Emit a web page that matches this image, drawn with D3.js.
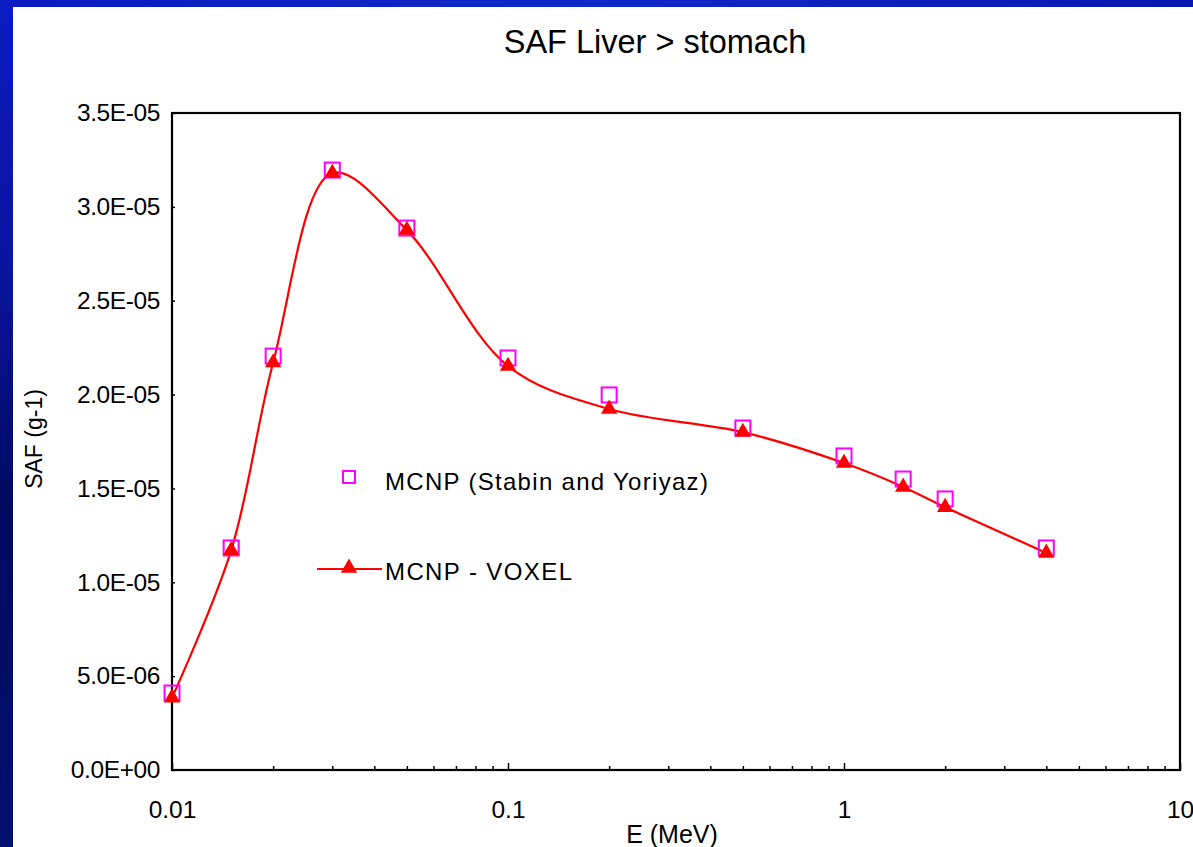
<!DOCTYPE html>
<html>
<head>
<meta charset="utf-8">
<script src="https://cdn.jsdelivr.net/npm/d3@7"></script>
<style>
  html, body { margin: 0; padding: 0; background: #fff; }
  svg { display: block; }
  text { font-family: Arial, "Liberation Sans", sans-serif; fill: #000; }
</style>
</head>
<body>
<svg id="chart" width="1193" height="847"></svg>
<script>
// ---- data ----
const energies = [0.01, 0.015, 0.02, 0.03, 0.05, 0.1, 0.2, 0.5, 1, 1.5, 2, 4];
const stabinYoriyaz = [4.10e-6, 1.183e-5, 2.205e-5, 3.196e-5, 2.887e-5, 2.195e-5, 1.998e-5, 1.822e-5, 1.673e-5, 1.550e-5, 1.444e-5, 1.183e-5];
const voxel = [3.85e-6, 1.17e-5, 2.17e-5, 3.18e-5, 2.876e-5, 2.152e-5, 1.923e-5, 1.80e-5, 1.635e-5, 1.508e-5, 1.40e-5, 1.156e-5];
const xMajorTicks = [0.01, 0.1, 1, 10];
const xTickLabels = ["0.01", "0.1", "1", "10"];
const yTicks = [0, 5e-6, 1e-5, 1.5e-5, 2e-5, 2.5e-5, 3e-5, 3.5e-5];
const seriesNames = ["MCNP (Stabin and Yoriyaz)", "MCNP - VOXEL"];
const chartTitle = "SAF Liver > stomach";
const xTitle = "E (MeV)";
const yTitle = "SAF (g-1)";

// ---- layout ----
const svg = d3.select("#chart");
const W = 1193, H = 847;
const plot = { left: 172, right: 1180, top: 113, bottom: 770 };

// background frame (blue gradient border)
const defs = svg.append("defs");
const g1 = defs.append("linearGradient").attr("id", "bg").attr("x1", 0).attr("y1", 0).attr("x2", 0).attr("y2", 1);
g1.append("stop").attr("offset", "0%").attr("stop-color", "#0a1cc0");
g1.append("stop").attr("offset", "30%").attr("stop-color", "#0a14a0");
g1.append("stop").attr("offset", "60%").attr("stop-color", "#000a60");
g1.append("stop").attr("offset", "100%").attr("stop-color", "#00106e");
const g2 = defs.append("linearGradient").attr("id", "bgTop").attr("x1", 0).attr("y1", 0).attr("x2", 1).attr("y2", 0);
g2.append("stop").attr("offset", "0%").attr("stop-color", "#0a1cc0");
g2.append("stop").attr("offset", "50%").attr("stop-color", "#1028c8");
g2.append("stop").attr("offset", "100%").attr("stop-color", "#0818b0");
svg.append("rect").attr("x", 0).attr("y", 0).attr("width", W).attr("height", H).attr("fill", "url(#bg)");
svg.append("rect").attr("x", 0).attr("y", 0).attr("width", W).attr("height", 8).attr("fill", "url(#bgTop)");
svg.append("rect").attr("x", 13).attr("y", 7).attr("width", W - 13).attr("height", H - 7).attr("fill", "#ffffff");

// ---- scales ----
const x = d3.scaleLog().domain([0.01, 10]).range([plot.left, plot.right]);
const y = d3.scaleLinear().domain([0, 3.5e-5]).range([plot.bottom, plot.top]);

function sci(d) {
  if (d === 0) return "0.0E+00";
  const e = Math.floor(Math.log10(d) + 1e-9);
  const m = d / Math.pow(10, e);
  const ee = Math.abs(e);
  return m.toFixed(1) + "E" + (e < 0 ? "-" : "+") + (ee < 10 ? "0" + ee : ee);
}

// ---- axes ----
// minor x ticks (inward)
const minorTicks = x.ticks().filter(t => xMajorTicks.indexOf(t) < 0);
svg.append("g")
  .attr("transform", `translate(0,${plot.bottom})`)
  .call(d3.axisBottom(x).tickValues(minorTicks).tickSize(-4).tickFormat(""))
  .call(g => g.select(".domain").remove())
  .call(g => g.selectAll("line").attr("stroke", "#000").attr("stroke-width", 1.5));

// major x ticks
svg.append("g")
  .attr("transform", `translate(0,${plot.bottom})`)
  .call(d3.axisBottom(x).tickValues(xMajorTicks).tickSize(-7).tickPadding(30)
    .tickFormat((d, i) => xTickLabels[i]))
  .call(g => g.select(".domain").remove())
  .call(g => g.selectAll("line").attr("stroke", "#000").attr("stroke-width", 1.5))
  .call(g => g.selectAll("text").attr("font-size", 24.5).attr("dy", "0").attr("y", 48)
    .style("font-family", "Arial, 'Liberation Sans', sans-serif"));

// y axis
svg.append("g")
  .attr("transform", `translate(${plot.left},0)`)
  .call(d3.axisLeft(y).tickValues(yTicks).tickSize(-3).tickPadding(12).tickFormat(sci))
  .call(g => g.select(".domain").remove())
  .call(g => g.selectAll("line").attr("stroke", "#000").attr("stroke-width", 1.5))
  .call(g => g.selectAll("text").attr("font-size", 24.5).attr("letter-spacing", -0.4)
    .style("font-family", "Arial, 'Liberation Sans', sans-serif"));

// frame
svg.append("rect")
  .attr("x", plot.left).attr("y", plot.top)
  .attr("width", plot.right - plot.left).attr("height", plot.bottom - plot.top)
  .attr("fill", "none").attr("stroke", "#000").attr("stroke-width", 2.2);

// ---- series ----
const stabinPts = energies.map((e, i) => ({ e, v: stabinYoriyaz[i] }));
const voxelPts = energies.map((e, i) => ({ e, v: voxel[i] }));

const line = d3.line().x(d => x(d.e)).y(d => y(d.v)).curve(d3.curveCatmullRom.alpha(0.5));
svg.append("path").datum(voxelPts)
  .attr("d", line).attr("fill", "none").attr("stroke", "#ff0000").attr("stroke-width", 2.2);

// squares (Stabin & Yoriyaz)
const sq = 15;
svg.append("g").selectAll("rect").data(stabinPts).join("rect")
  .attr("x", d => x(d.e) - sq / 2).attr("y", d => y(d.v) - sq / 2)
  .attr("width", sq).attr("height", sq)
  .attr("fill", "none").attr("stroke", "#ff00ff").attr("stroke-width", 2);

// triangles (voxel)
const tri = d3.symbol().type(d3.symbolTriangle).size(115);
svg.append("g").selectAll("path").data(voxelPts).join("path")
  .attr("transform", d => `translate(${x(d.e)},${y(d.v)})`)
  .attr("d", tri).attr("fill", "#ff0000");

// ---- legend ----
const lg = svg.append("g");
lg.append("rect").attr("x", 343).attr("y", 471).attr("width", 12).attr("height", 12)
  .attr("fill", "none").attr("stroke", "#ff00ff").attr("stroke-width", 2);
lg.append("text").attr("x", 385).attr("y", 490).attr("font-size", 24).attr("letter-spacing", 1.3).text(seriesNames[0]);
lg.append("line").attr("x1", 317).attr("x2", 382).attr("y1", 569).attr("y2", 569)
  .attr("stroke", "#ff0000").attr("stroke-width", 2.2);
lg.append("path").attr("transform", "translate(349,568)").attr("d", tri).attr("fill", "#ff0000");
lg.append("text").attr("x", 385).attr("y", 580).attr("font-size", 24).attr("letter-spacing", 1.4).text(seriesNames[1]);

// ---- titles ----
svg.append("text").attr("x", 655).attr("y", 53).attr("text-anchor", "middle")
  .attr("font-size", 32.5).text(chartTitle);
svg.append("text").attr("x", 672).attr("y", 843).attr("text-anchor", "middle")
  .attr("font-size", 25).text(xTitle);
svg.append("text").attr("transform", "translate(42,439) rotate(-90)").attr("text-anchor", "middle")
  .attr("font-size", 23).text(yTitle);
</script>
</body>
</html>
